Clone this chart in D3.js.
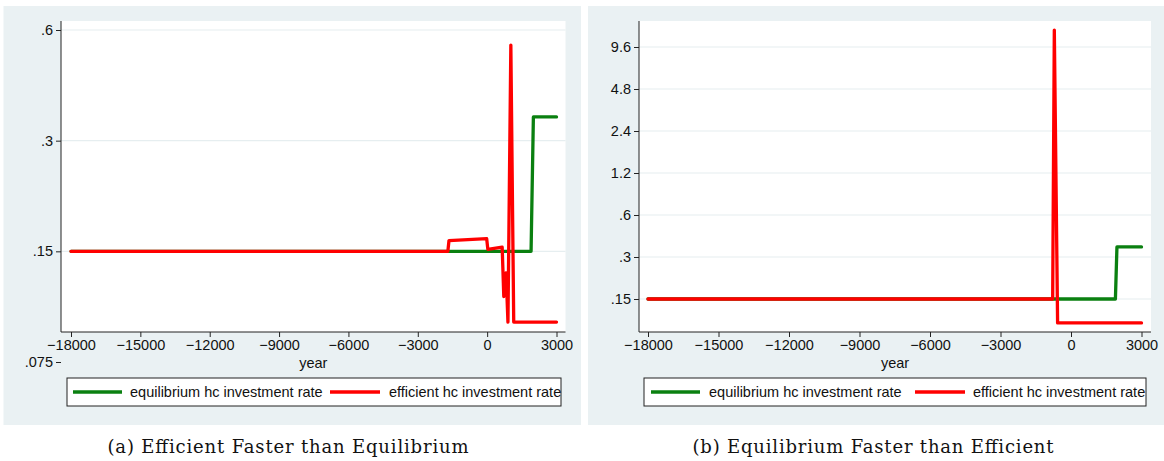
<!DOCTYPE html>
<html>
<head>
<meta charset="utf-8">
<script src="https://cdn.jsdelivr.net/npm/d3@7/dist/d3.min.js"></script>
<style>
  body { margin: 0; background: #fff; }
  text { font-family: "Liberation Sans", Arial, sans-serif; fill: #111; }
</style>
</head>
<body>
<div id="chart"></div>
<script>
// x axis ticks (both panels)
const yearTicks = [-18000, -15000, -12000, -9000, -6000, -3000, 0, 3000];

// panel (a): efficient faster than equilibrium
const yTicksA = [0.075, 0.15, 0.3, 0.6];
const yLabelsA = [".075", ".15", ".3", ".6"];
const equilYearsA = [-18000, 1900, 2000, 3000];
const equilRateA = [0.15, 0.15, 0.348, 0.348];
const effYearsA = [-18000, -1700, -1650, -20, 30, 650, 720, 820, 900, 1025, 1150, 3000];
const effRateA = [0.15, 0.15, 0.1605, 0.1624, 0.1519, 0.154, 0.113, 0.131, 0.0963, 0.546, 0.0963, 0.0963];

// panel (b): equilibrium faster than efficient
const yTicksB = [0.15, 0.3, 0.6, 1.2, 2.4, 4.8, 9.6];
const yLabelsB = [".15", ".3", ".6", "1.2", "2.4", "4.8", "9.6"];
const equilYearsB = [-18000, 1890, 1955, 3000];
const equilRateB = [0.15, 0.15, 0.354, 0.354];
const effYearsB = [-18000, -780, -710, -570, 3000];
const effRateB = [0.15, 0.15, 12.7, 0.101, 0.101];

const seriesNames = ["equilibrium hc investment rate", "efficient hc investment rate"];
const seriesColors = ["#0a8010", "#ff0000"];
const captions = ["(a) Efficient Faster than Equilibrium", "(b) Equilibrium Faster than Efficient"];

const width = 1164, height = 461;

const svg = d3.select("#chart").append("svg")
    .attr("width", width)
    .attr("height", height);

const panels = [
    {
        bg: [3.5, 6, 581, 425], plot: [61, 21, 565.5, 332],
        xr: [71, 556.5], ydom: [0.075, 0.6], yr: [362, 30],
        ticks: yTicksA, labels: yLabelsA,
        series: [[equilYearsA, equilRateA], [effYearsA, effRateA]],
        legend: [67, 378, 561, 406], legX: [73, 122, 130, 330, 380, 389],
        caption: captions[0], capX: 288
    },
    {
        bg: [588, 6, 1164, 425], plot: [639, 21, 1151, 332],
        xr: [648, 1141.5], ydom: [0.15, 9.6], yr: [299, 47],
        ticks: yTicksB, labels: yLabelsB,
        series: [[equilYearsB, equilRateB], [effYearsB, effRateB]],
        legend: [644, 378, 1146, 406], legX: [651, 700, 709, 915, 965, 973],
        caption: captions[1], capX: 873
    }
];

panels.forEach(function (p) {
    const g = svg.append("g");

    g.append("rect")
        .attr("x", p.bg[0]).attr("y", p.bg[1])
        .attr("width", p.bg[2] - p.bg[0]).attr("height", p.bg[3] - p.bg[1])
        .attr("fill", "#eaf1f3");

    g.append("rect")
        .attr("x", p.plot[0]).attr("y", p.plot[1])
        .attr("width", p.plot[2] - p.plot[0]).attr("height", p.plot[3] - p.plot[1])
        .attr("fill", "#fff");

    const x = d3.scaleLinear().domain([-18000, 3000]).range(p.xr);
    const y = d3.scaleLog().domain(p.ydom).range(p.yr);

    // grid lines
    g.selectAll(".grid")
        .data(p.ticks.filter(function (t) { return y(t) >= p.plot[1] && y(t) <= p.plot[3]; }))
        .enter().append("line")
        .attr("x1", p.plot[0]).attr("x2", p.plot[2])
        .attr("y1", function (d) { return y(d); })
        .attr("y2", function (d) { return y(d); })
        .attr("stroke", "#e6eef0")
        .attr("stroke-width", 1.2);

    // y axis
    const yAxis = g.append("g")
        .attr("transform", "translate(" + p.plot[0] + ",0)")
        .call(d3.axisLeft(y).tickValues(p.ticks)
            .tickFormat(function (d, i) { return p.labels[i]; })
            .tickSize(5).tickPadding(3));
    yAxis.select(".domain").remove();
    yAxis.selectAll("line").attr("stroke", "#222");
    yAxis.selectAll("text").style("font-size", "14.5px").attr("font-family", null).attr("fill", "#111");
    g.append("line")
        .attr("x1", p.plot[0]).attr("x2", p.plot[0])
        .attr("y1", p.plot[1]).attr("y2", p.plot[3])
        .attr("stroke", "#222");

    // x axis
    const xAxis = g.append("g")
        .attr("transform", "translate(0," + p.plot[3] + ")")
        .call(d3.axisBottom(x).tickValues(yearTicks)
            .tickFormat(d3.format("d"))
            .tickSize(5).tickPadding(3));
    xAxis.select(".domain").remove();
    xAxis.selectAll("line").attr("stroke", "#222");
    xAxis.selectAll("text").style("font-size", "14.5px").attr("font-family", null).attr("fill", "#111");
    g.append("line")
        .attr("x1", p.plot[0]).attr("x2", p.plot[2])
        .attr("y1", p.plot[3]).attr("y2", p.plot[3])
        .attr("stroke", "#222");

    g.append("text")
        .attr("x", (p.plot[0] + p.plot[2]) / 2)
        .attr("y", 368)
        .attr("text-anchor", "middle")
        .style("font-size", "14.5px")
        .text("year");

    // lines
    const line = d3.line()
        .x(function (d) { return x(d[0]); })
        .y(function (d) { return y(d[1]); });

    p.series.forEach(function (s, i) {
        const pts = s[0].map(function (yr, j) { return [yr, s[1][j]]; });
        g.append("path")
            .attr("d", line(pts))
            .attr("fill", "none")
            .attr("stroke", seriesColors[i])
            .attr("stroke-width", 3.3)
            .attr("stroke-linejoin", "round")
            .attr("stroke-linecap", "round");
    });

    // legend
    g.append("rect")
        .attr("x", p.legend[0]).attr("y", p.legend[1])
        .attr("width", p.legend[2] - p.legend[0]).attr("height", p.legend[3] - p.legend[1])
        .attr("fill", "#fff")
        .attr("stroke", "#222");
    const ly = (p.legend[1] + p.legend[3]) / 2;
    [0, 1].forEach(function (i) {
        g.append("line")
            .attr("x1", p.legX[i * 3]).attr("x2", p.legX[i * 3 + 1])
            .attr("y1", ly).attr("y2", ly)
            .attr("stroke", seriesColors[i])
            .attr("stroke-width", 3.6);
        g.append("text")
            .attr("x", p.legX[i * 3 + 2])
            .attr("y", ly + 5)
            .style("font-size", "14.5px")
            .text(seriesNames[i]);
    });

    // caption
    g.append("text")
        .attr("x", p.capX)
        .attr("y", 453)
        .attr("text-anchor", "middle")
        .attr("textLength", 361)
        .attr("lengthAdjust", "spacing")
        .style("font-family", "'DejaVu Serif', serif")
        .style("font-size", "18px")
        .style("font-weight", "300")
        .text(p.caption);
});
</script>
</body>
</html>
